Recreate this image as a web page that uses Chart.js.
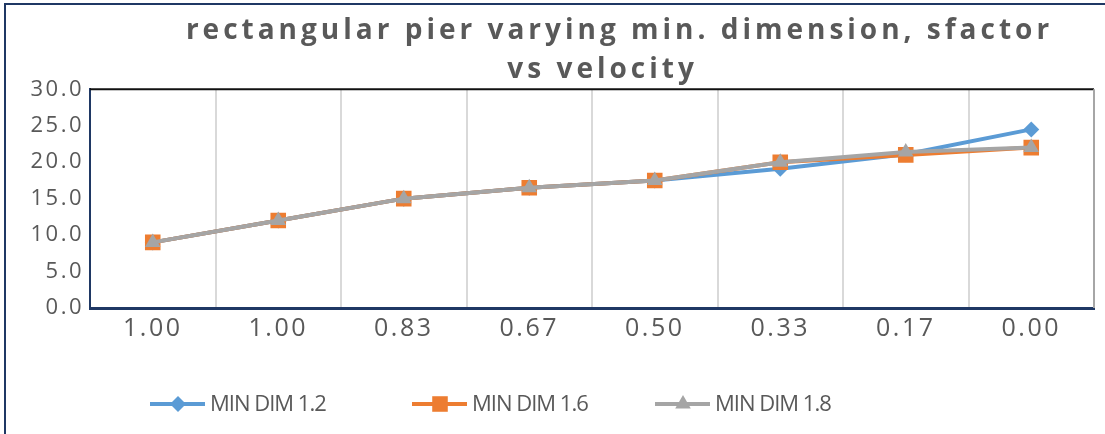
<!DOCTYPE html>
<html>
<head>
<meta charset="utf-8">
<script src="https://cdn.jsdelivr.net/npm/chart.js@4/dist/chart.umd.min.js"></script>
<style>
  html, body { margin: 0; padding: 0; background: #fff; overflow: hidden; }
  #frame { position: absolute; left: 4px; top: 3px; width: 1200px; height: 500px; border: 2px solid #1f3864; z-index: 0; }
  #wrap { position: absolute; left: 0; top: 0; width: 1105px; height: 434px; z-index: 1; }
</style>
</head>
<body>
<div id="frame"></div>
<div id="wrap"><canvas id="chart"></canvas></div>
<script>
// ratio labels along the x axis
const velocityLabels = ['1.00', '1.00', '0.83', '0.67', '0.50', '0.33', '0.17', '0.00']

// sfactor for each min. dimension
const minDim12 = [9.0, 12.0, 15.0, 16.5, 17.5, 19.1, 21.1, 24.5]
const minDim16 = [9.0, 12.0, 15.0, 16.5, 17.5, 20.0, 21.0, 22.0]
const minDim18 = [9.0, 12.0, 15.0, 16.5, 17.5, 20.0, 21.4, 22.0]

const seriesNames = ['MIN DIM 1.2', 'MIN DIM 1.6', 'MIN DIM 1.8']

const textColor = '#595959'
const axisNavy = '#1f3864'

// canvas has no letter-spacing option in chart.js, so patch a few draw calls
function withSpacing(obj, method, spacing, dx) {
  if (!obj || obj['_spaced_' + method]) return
  const orig = obj[method].bind(obj)
  obj[method] = function (...args) {
    const ctx = this.ctx
    ctx.save()
    ctx.letterSpacing = spacing
    if (dx) ctx.translate(dx, 0)
    orig(...args)
    ctx.restore()
  }
  obj['_spaced_' + method] = true
}

const spacingPlugin = {
  id: 'spacing',
  beforeDraw(chart) {
    withSpacing(chart.scales.x, 'drawLabels', '2.5px')
    withSpacing(chart.scales.y, 'drawLabels', '2.5px')
    withSpacing(chart.titleBlock, 'draw', '4px', 72)
  }
}

// top black line and right gray line of the plot area
const plotFramePlugin = {
  id: 'plotFrame',
  beforeDatasetsDraw(chart) {
    const { ctx, chartArea } = chart
    ctx.save()
    ctx.lineWidth = 2
    ctx.strokeStyle = '#111'
    ctx.beginPath()
    ctx.moveTo(chartArea.left, chartArea.top)
    ctx.lineTo(chartArea.right, chartArea.top)
    ctx.stroke()
    ctx.strokeStyle = '#a6a6a6'
    ctx.beginPath()
    ctx.moveTo(chartArea.right, chartArea.top)
    ctx.lineTo(chartArea.right, chartArea.bottom)
    ctx.stroke()
    ctx.restore()
  }
}

// excel style legend: line with marker, then text
// (excel spaced the three entries unevenly, so the starts are fixed)
const legendStarts = [150, 412, 655]
const lineLegendPlugin = {
  id: 'lineLegend',
  afterDraw(chart) {
    const ctx = chart.ctx
    const y = 404
    ctx.save()
    ctx.font = '22px "Open Sans"'
    ctx.letterSpacing = '-1px'
    ctx.textBaseline = 'middle'
    chart.data.datasets.forEach((ds, i) => {
      const x = legendStarts[i]
      ctx.strokeStyle = ds.borderColor
      ctx.lineWidth = 4
      ctx.beginPath()
      ctx.moveTo(x, y)
      ctx.lineTo(x + 55, y)
      ctx.stroke()
      ctx.fillStyle = ds.borderColor
      Chart.helpers.drawPoint(ctx, {
        pointStyle: ds.pointStyle,
        radius: ds.pointRadius,
        borderWidth: 0
      }, x + 28, y)
      ctx.fillStyle = textColor
      ctx.fillText(ds.label, x + 60, y + 1)
    })
    ctx.restore()
  }
}

function makeSeries(label, data, color, style, radius, order) {
  return {
    label: label,
    data: data,
    borderColor: color,
    backgroundColor: color,
    borderWidth: 4,
    pointStyle: style,
    pointRadius: radius,
    pointHoverRadius: radius,
    pointBorderWidth: 0,
    pointBackgroundColor: color,
    tension: 0,
    order: order
  }
}

new Chart(document.getElementById('chart'), {
  type: 'line',
  data: {
    labels: velocityLabels,
    datasets: [
      makeSeries(seriesNames[0], minDim12, '#5b9bd5', 'rectRot', 8, 3),
      makeSeries(seriesNames[1], minDim16, '#ed7d31', 'rect', 11, 2),
      makeSeries(seriesNames[2], minDim18, '#a5a5a5', 'triangle', 9, 1)
    ]
  },
  options: {
    responsive: true,
    maintainAspectRatio: false,
    animation: false,
    layout: {
      padding: { left: 0, right: 10, top: 0, bottom: 66 }
    },
    plugins: {
      legend: { display: false },
      tooltip: { enabled: false },
      title: {
        display: true,
        // trailing spaces keep the short line a little left of the long one
        text: ['rectangular pier varying min. dimension, sfactor', 'vs velocity   '],
        color: textColor,
        font: { family: '"Open Sans"', size: 28, weight: 'bold', lineHeight: 1.38 },
        padding: { top: 12, bottom: 0 }
      }
    },
    scales: {
      x: {
        offset: true,
        grid: { display: true, offset: true, color: '#d9d9d9', lineWidth: 2, drawTicks: false },
        border: { display: true, color: axisNavy, width: 3 },
        ticks: {
          color: textColor,
          font: { family: '"Open Sans"', size: 25 },
          padding: 6,
          maxRotation: 0,
          autoSkip: false
        },
        afterFit(scale) { scale.height = 60 }
      },
      y: {
        min: 0,
        max: 30,
        grid: { display: false, drawTicks: false },
        border: { display: true, color: axisNavy, width: 2 },
        ticks: {
          stepSize: 5,
          color: textColor,
          font: { family: '"Open Sans"', size: 22 },
          padding: 6,
          callback: v => v.toFixed(1)
        },
        afterFit(scale) { scale.width = 90 }
      }
    }
  },
  plugins: [spacingPlugin, plotFramePlugin, lineLegendPlugin]
})
</script>
</body>
</html>
